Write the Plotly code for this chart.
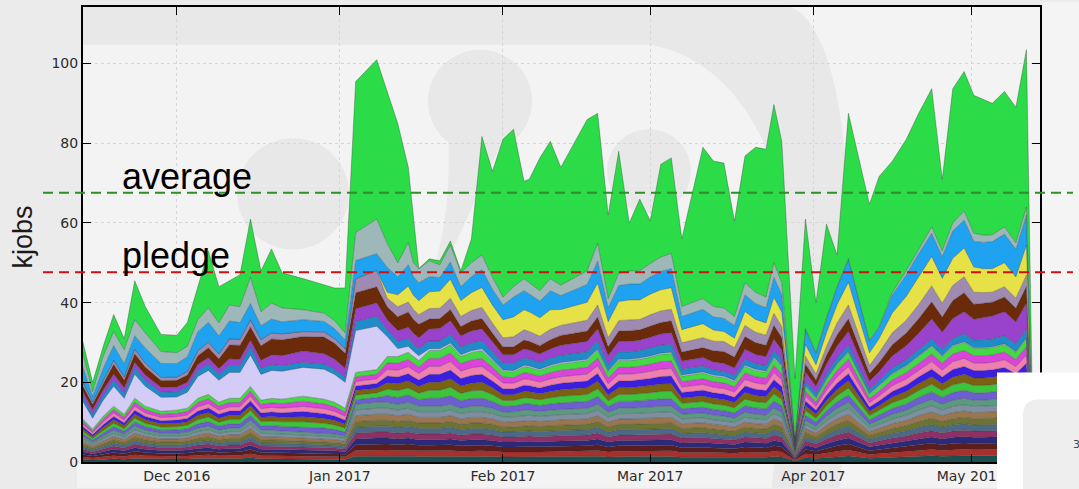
import plotly.graph_objects as go

# ---------------- data ----------------
dates = ["2016-11-13","2016-11-15","2016-11-17","2016-11-19","2016-11-21","2016-11-23","2016-11-25","2016-11-28","2016-12-01","2016-12-03",
         "2016-12-05","2016-12-07","2016-12-09","2016-12-11","2016-12-13","2016-12-15","2016-12-17","2016-12-19","2016-12-21","2016-12-25",
         "2016-12-29","2016-12-31","2017-01-02","2017-01-04","2017-01-08","2017-01-10","2017-01-12","2017-01-14","2017-01-15","2017-01-16",
         "2017-01-18","2017-01-20","2017-01-22","2017-01-24","2017-01-26","2017-01-28","2017-01-30","2017-02-01","2017-02-03","2017-02-05",
         "2017-02-06","2017-02-08","2017-02-10","2017-02-12","2017-02-17","2017-02-19","2017-02-21","2017-02-23","2017-02-25","2017-02-27",
         "2017-03-01","2017-03-03","2017-03-05","2017-03-07","2017-03-11","2017-03-13","2017-03-15","2017-03-17","2017-03-19","2017-03-21",
         "2017-03-23","2017-03-24 12:00","2017-03-26","2017-03-28 12:00","2017-03-30 12:00","2017-04-01 12:00","2017-04-03 12:00","2017-04-05 12:00","2017-04-07 16:00","2017-04-11 16:00",
         "2017-04-13 12:00","2017-04-16","2017-04-18 16:00","2017-04-21","2017-04-23 12:00","2017-04-25 12:00","2017-04-27 12:00","2017-04-29 16:00","2017-05-01 12:00","2017-05-03 08:00",
         "2017-05-05","2017-05-07 08:00","2017-05-09 12:00","2017-05-11 12:00","2017-05-12 20:00"]

# thickness (kjobs) of each of the many thin bottom layers
thin_layer = [0.65,0.5,0.65,0.8,0.7,0.9,0.8,0.72,0.72,0.75,
              0.85,0.9,0.8,0.85,0.85,1.05,0.8,0.8,0.78,0.75,
              0.73,0.7,0.65,1.45,1.5,1.5,1.45,1.5,1.45,1.4,
              1.4,1.4,1.45,1.35,1.4,1.4,1.35,1.25,1.26,1.3,
              1.3,1.27,1.3,1.32,1.35,1.45,1.25,1.35,1.35,1.36,
              1.38,1.4,1.4,1.2,1.23,1.18,1.15,1.1,1.25,1.2,
              1.18,1.35,1.25,0.25,1.05,0.9,1.15,1.35,1.5,0.95,
              1.05,1.2,1.3,1.45,1.57,1.45,1.55,1.6,1.55,1.55,
              1.57,1.6,1.5,1.65,0]
# thickness of each of the middle coloured layers
mid_layer = [0.64,0.47,0.71,0.86,0.71,1.0,0.86,0.79,0.83,0.86,
             1.07,1.14,1.0,1.07,1.07,1.21,1.07,1.14,1.14,1.29,
             1.21,1.14,1.0,1.14,1.17,1.64,1.71,1.79,1.71,1.64,
             2.0,2.0,2.14,1.86,1.93,2.0,1.71,1.47,1.43,1.57,
             1.54,1.47,1.57,1.64,1.71,1.93,1.43,1.71,1.71,1.74,
             1.79,1.86,1.89,1.36,1.43,1.39,1.39,1.31,1.64,1.57,
             1.53,1.79,1.61,0.21,1.21,1.0,1.31,1.57,1.79,1.07,
             1.21,1.43,1.57,1.71,1.9,1.71,1.93,2.0,1.86,1.86,
             1.86,1.93,1.79,2.07,0]
lavender = [4.5,2.7,4.0,5.0,4.0,6.0,5.0,3.5,3.3,4.0,
            5.5,6.0,5.5,6.5,6.5,7.9,6.5,7.0,7.0,7.2,
            7.5,7.0,6.5,10.5,10.9,5.0,2.0,1.5,1.3,1.2,
            0.4,0.4,0.4,0.4,0.4,0.4,0.3,0.3,0.3,0.3,
            0.3,0.3,0.3,0.3,0.3,0.3,0.3,0.3,0.3,0.3,
            0.3,0.3,0.3,0.3,0.3,0.3,0.3,0.3,0.3,0.3,
            0.3,0.3,0.3,0.1,0.2,0.2,0.2,0.2,0.2,0.2,
            0.2,0.2,0.2,0.2,0.2,0.2,0.2,0.2,0.2,0.2,
            0.2,0.2,0.2,0.2,0]
steelblue = [1.3,1.0,1.3,1.5,1.3,1.7,1.5,1.3,1.3,1.3,
             1.5,1.6,1.5,1.7,1.7,2.1,1.5,1.5,1.4,1.3,
             1.3,1.3,1.2,2.3,2.5,1.7,1.8,2.0,1.8,1.8,
             2.0,2.0,2.2,1.9,2.0,2.0,1.9,1.7,1.8,1.8,
             1.8,1.7,1.8,1.8,1.9,2.1,1.7,1.9,1.9,1.9,
             2.0,2.0,2.0,1.5,1.5,1.3,1.2,1.2,1.5,1.4,
             1.4,1.7,1.5,0.3,1.2,1.0,1.3,1.5,1.7,1.1,
             1.2,1.4,1.5,1.6,1.7,1.6,1.8,2.0,1.9,2.0,
             2.0,2.0,1.9,2.2,0]
purple = [1.2,1.2,1.3,1.5,1.3,1.3,1.3,1.2,1.2,1.2,
          1.5,1.6,1.4,1.7,1.6,1.6,2.0,2.4,2.5,2.8,
          2.6,2.5,2.3,3.2,3.3,2.5,2.7,2.8,2.7,2.7,
          3.0,3.1,3.4,2.8,3.0,3.0,2.5,2.1,2.2,2.3,
          2.2,2.1,2.3,2.5,2.6,3.0,2.2,2.6,2.6,2.6,
          2.7,2.8,2.9,2.0,2.1,2.0,2.0,1.9,2.5,2.3,
          2.2,2.8,2.5,0.4,2.2,1.8,2.4,2.9,3.3,2.0,
          2.3,3.0,3.5,4.0,5.0,4.3,5.0,5.5,5.2,5.5,
          5.7,6.0,5.5,6.5,0]
brown = [1.5,1.3,1.6,2.5,2.0,2.2,2.0,1.7,1.7,1.8,
         2.2,2.5,2.5,3.5,3.5,3.3,3.7,4.0,4.0,3.7,
         4.2,4.0,3.8,4.0,4.1,3.3,3.5,3.8,3.5,3.4,
         2.5,2.5,2.8,2.4,2.5,2.6,2.2,2.0,2.0,2.2,
         2.2,2.1,2.3,2.5,2.6,3.0,2.2,2.6,2.7,2.6,
         2.8,2.9,3.0,2.3,2.5,2.8,3.0,2.8,3.2,3.0,
         2.9,3.5,3.2,0.3,2.0,1.6,2.2,2.8,3.2,1.9,
         2.3,2.8,3.2,3.7,4.3,3.8,4.5,4.8,3.8,3.6,
         3.5,3.7,3.5,4.2,0]
mauve = [1.0,0.6,0.8,1.0,0.8,1.2,1.0,0.8,0.8,0.9,
         1.2,1.4,1.2,1.5,1.5,1.8,1.5,1.5,1.5,1.2,
         1.3,1.2,1.1,3.5,4.1,2.1,2.5,2.5,2.5,2.4,
         2.6,2.6,2.8,2.5,2.6,2.8,2.5,2.3,2.5,2.6,
         2.5,2.4,2.6,2.5,2.7,3.0,2.3,2.6,2.7,2.6,
         2.8,2.9,2.9,2.3,2.5,2.4,2.5,2.3,2.8,2.6,
         2.5,3.0,2.7,0.3,2.0,1.5,2.2,3.0,3.5,2.0,
         2.5,3.0,3.2,3.5,4.0,3.5,3.8,4.0,3.0,2.7,
         2.5,2.6,2.5,2.8,0]
yellow = [0,0,0,0,0,0,0,0,0,0,
          0,0,0,0,0,0,0,0,0,0,
          0,0,0,0,0,1.5,3.0,4.0,3.5,3.5,
          4.2,4.3,4.8,4.0,4.5,5.0,4.5,4.5,5.0,5.0,
          4.9,4.6,4.9,4.0,4.5,5.5,4.0,4.8,5.0,4.9,
          5.2,5.3,5.4,3.3,3.5,2.8,2.5,2.4,3.5,3.2,
          3.1,4.0,3.6,0.2,3.0,2.3,3.5,4.6,5.7,3.2,
          3.5,5.0,6.0,6.8,7.4,6.2,6.8,7.2,6.3,6.0,
          5.9,6.0,5.3,7.5,0]
skyblue = [4.0,1.4,3.0,3.7,3.3,3.3,3.8,3.5,3.4,3.7,
           4.8,5.0,4.5,4.5,4.2,4.1,3.5,3.5,3.0,3.0,
           2.6,2.5,2.2,4.6,4.2,6.3,4.5,5.4,4.7,4.5,
           3.8,3.4,4.3,3.5,4.0,4.5,4.0,3.7,5.0,4.8,
           4.5,4.2,4.8,3.5,4.5,5.5,3.5,4.0,4.0,4.0,
           4.3,4.6,4.8,3.3,3.6,3.3,3.3,3.2,4.2,4.0,
           3.8,5.0,4.5,0.3,3.7,2.8,3.5,4.3,5.7,2.9,
           2.8,4.5,5.4,6.0,5.8,5.5,6.9,7.0,6.5,6.6,
           6.8,7.2,7.0,7.6,0]
greyteal = [3.5,1.2,3.0,3.5,3.5,4.0,3.8,3.0,2.7,2.6,
            3.0,3.6,3.3,4.0,4.0,6.6,3.5,4.0,3.5,2.5,
            2.1,2.0,1.8,7.0,8.7,6.0,3.5,5.5,3.5,3.5,
            4.0,3.2,4.3,3.5,3.5,3.7,3.0,2.0,2.6,3.0,
            2.8,2.6,3.0,2.6,3.4,4.5,2.3,3.1,3.3,3.3,
            3.4,3.6,3.8,2.5,2.7,2.6,2.6,2.2,3.0,2.8,
            2.7,3.7,2.9,0.1,0.2,0.2,0.2,0.2,0.2,0.2,
            0.2,0.6,1.0,1.2,1.6,1.4,2.0,2.3,2.0,1.8,
            1.7,1.8,1.6,2.0,0]
green = [3.0,2.3,2.5,4.3,2.8,9.8,6.6,4.3,4.4,6.0,
         8.3,14.3,9.1,6.1,8.0,14.6,10.3,13.6,8.8,7.8,
         7.1,8.2,11.3,37.9,40.0,38.1,35.0,19.0,12.0,0.1,
         0.5,1.0,1.0,0.5,6.0,29.7,26.6,39.6,39.5,24.5,
         26.0,33.3,34.5,29.6,38.0,32.6,21.0,30.6,12.0,18.0,
         10.7,23.3,24.0,17.0,38.0,36.5,36.4,24.0,31.8,36.4,
         37.1,39.7,35.5,15.0,27.5,12.6,23.5,8.0,36.5,34.2,
         37.7,33.0,33.0,34.0,34.7,18.0,33.7,35.0,34.6,34.1,
         33.0,34.0,34.0,39.5,0]

average_kjobs = 67.6
pledge_kjobs = 47.6

month_ticks = ["2016-12-01", "2017-01-01", "2017-02-01", "2017-03-01", "2017-04-01", "2017-05-01"]
month_labels = ["Dec 2016", "Jan 2017", "Feb 2017", "Mar 2017", "Apr 2017", "May 2017"]
y_ticks = [0, 20, 40, 60, 80, 100]
y_max = 114.2

# ---------------- styling ----------------
thin_colors = ['#1c4f4f', '#a8302c', '#5a1e1e', '#2b2a7a', '#8e2f66',
               '#4c6a86', '#6b7433', '#9a7650', '#7d8fa0', '#5b9a80']
mid_colors = ['#6d5fcf', '#3cc43c', '#7a6212', '#3b1fe0', '#ef7fae', '#db44db', '#44d844']
upper = [(lavender, '#d2ccf6'), (steelblue, '#1f8bc8'), (purple, '#9942cb'),
         (brown, '#6b2b0b'), (mauve, '#9f8ab2'), (yellow, '#e5e146'),
         (skyblue, '#1fa3f0'), (greyteal, '#9eb8ba'), (green, '#2bdb47')]

fig = go.Figure()


def add_layer(vals, color):
    fig.add_trace(go.Scatter(
        x=dates, y=vals, mode='lines', stackgroup='one',
        line=dict(width=0.6, color='rgba(45,45,45,0.55)'),
        fillcolor=color, hoverinfo='skip', showlegend=False))


for c in thin_colors:
    add_layer(thin_layer, c)
for c in mid_colors:
    add_layer(mid_layer, c)
for vals, c in upper:
    add_layer(vals, c)

# ---------------- geometry helpers (pixel -> paper) ----------------
L0, T0, W, H = 83, 5, 957, 458


def px(x, y):
    return (x - L0) / W, (T0 + H - y) / H


def path(points_cmds):
    out = []
    for cmd, pts in points_cmds:
        coords = " ".join("%.5f,%.5f" % px(*p) for p in pts)
        out.append(cmd + " " + coords if coords else cmd)
    return " ".join(out)


def rect(x0, y0, x1, y1, color, layer='below'):
    a = px(x0, y0)
    b = px(x1, y1)
    return dict(type='rect', xref='paper', yref='paper', x0=a[0], y0=b[1], x1=b[0], y1=a[1],
                fillcolor=color, line=dict(width=0), layer=layer)


def circle(x0, y0, x1, y1, color):
    a = px(x0, y0)
    b = px(x1, y1)
    return dict(type='circle', xref='paper', yref='paper', x0=a[0], y0=b[1], x1=b[0], y1=a[1],
                fillcolor=color, line=dict(width=0), layer='below')


wm = '#e8e8e8'
shapes = [
    rect(77, 465, 997, 489, '#f3f3f3'),
    rect(1041, 0, 1079, 373, '#f4f4f4'),
    dict(type='path', xref='paper', yref='paper', layer='below', fillcolor=wm, line=dict(width=0),
         path=path([('M', [(83, 5)]), ('L', [(790, 5)]), ('C', [(830, 20), (850, 120), (850, 260)]),
                    ('L', [(840, 489)]), ('L', [(772, 489)]), ('L', [(790, 260)]),
                    ('C', [(788, 170), (745, 60), (650, 43)]), ('L', [(83, 43)]), ('Z', [])])),
    circle(237, 137, 349, 249, wm),
    circle(428, 48, 532, 152, wm),
    dict(type='path', xref='paper', yref='paper', layer='below', fillcolor=wm, line=dict(width=0),
         path=path([('M', [(448, 135)]), ('Q', [(452, 200), (436, 262)]), ('L', [(447, 262)]),
                    ('Q', [(475, 200), (500, 145)]), ('Z', [])])),
    circle(607, 128, 691, 212, wm),
    # reference lines
    dict(type='line', xref='paper', yref='paper', x0=px(43, 0)[0], x1=px(1073, 0)[0],
         y0=average_kjobs / y_max, y1=average_kjobs / y_max,
         line=dict(color='#2f8f2a', width=2, dash='10px,6px')),
    dict(type='line', xref='paper', yref='paper', x0=px(43, 0)[0], x1=px(1073, 0)[0],
         y0=pledge_kjobs / y_max, y1=pledge_kjobs / y_max,
         line=dict(color='#c81414', width=2, dash='10px,6px')),
    # white overlay box at bottom right
    rect(997, 373, 1090, 500, '#ffffff', layer='above'),
    dict(type='path', xref='paper', yref='paper', layer='above', fillcolor='#eeeeee', line=dict(width=0),
         path=path([('M', [(1023, 495)]), ('L', [(1023, 416)]), ('Q', [(1023, 400), (1039, 400)]),
                    ('L', [(1090, 400)]), ('L', [(1090, 495)]), ('Z', [])])),
]

ann_font = 'Liberation Sans, Arial, sans-serif'
annotations = [
    dict(text='average', xref='paper', yref='paper', x=px(120, 0)[0], y=px(0, 176)[1],
         xanchor='left', yanchor='middle', showarrow=False, font=dict(family=ann_font, size=36, color='black')),
    dict(text='pledge', xref='paper', yref='paper', x=px(120, 0)[0], y=px(0, 255)[1],
         xanchor='left', yanchor='middle', showarrow=False, font=dict(family=ann_font, size=36, color='black')),
    dict(text='kjobs', xref='paper', yref='paper', x=px(23, 0)[0], y=px(0, 237)[1], textangle=-90,
         xanchor='center', yanchor='middle', showarrow=False, font=dict(family=ann_font, size=27, color='#1a1a1a')),
    dict(text='3', xref='paper', yref='paper', x=px(1071, 0)[0], y=px(0, 445)[1],
         xanchor='left', yanchor='middle', showarrow=False, font=dict(family='DejaVu Sans', size=11, color='#444444')),
]

fig.update_layout(
    width=1079, height=489,
    margin=dict(l=L0, r=1079 - L0 - W, t=T0, b=489 - T0 - H),
    paper_bgcolor='#ebebeb', plot_bgcolor='#f3f3f3',
    showlegend=False, shapes=shapes, annotations=annotations,
    font=dict(family='DejaVu Sans', size=14, color='#2b2b2b'),
)
axis_common = dict(ticks='inside', ticklen=8, tickwidth=1, tickcolor='black',
                   showline=True, linecolor='black', linewidth=2, mirror='ticks',
                   showgrid=True, gridcolor='#d6d6d6', gridwidth=1, griddash='dot', zeroline=False,
                   tickfont=dict(family='DejaVu Sans', size=14, color='#2b2b2b'))
fig.update_xaxes(type='date', range=['2016-11-13 04:00', '2017-05-14 02:00'],
                 tickmode='array', tickvals=month_ticks, ticktext=month_labels, **axis_common)
fig.update_yaxes(range=[0, y_max], tickmode='array', tickvals=y_ticks, **axis_common)

fig.write_html("out.html", config={'displayModeBar': False},
               post_script="document.body.style.margin='0';")
